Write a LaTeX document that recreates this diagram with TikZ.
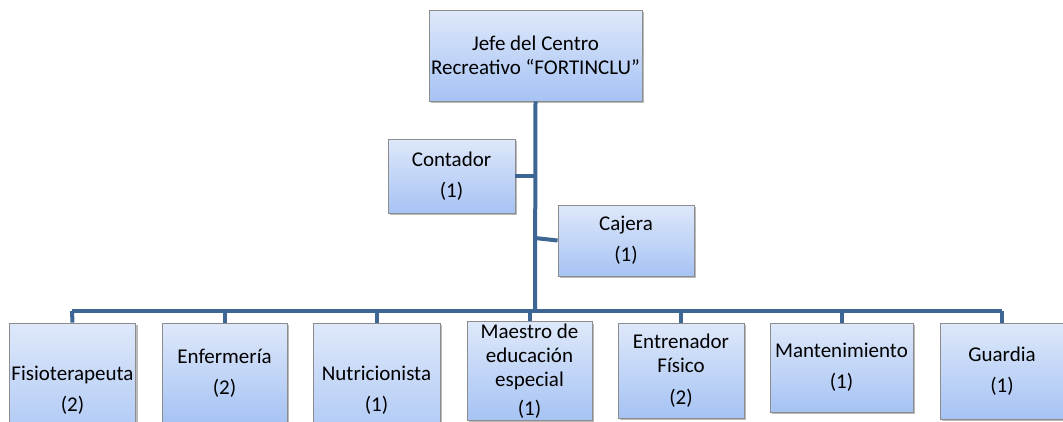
\documentclass[tikz,border=0pt]{standalone}
\usepackage{fontspec}
\setmainfont{Carlito}
\usetikzlibrary{shadows}
\definecolor{linec}{RGB}{62,102,148}
\definecolor{boxtop}{RGB}{222,232,250}
\definecolor{boxbot}{RGB}{166,195,244}
\definecolor{boxline}{RGB}{140,140,140}
\tikzset{
  orgbox/.style={draw=boxline, line width=0.8pt, top color=boxtop, bottom color=boxbot,
    align=center, inner sep=2pt, font=\fontsize{21}{24}\selectfont,
    drop shadow={shadow xshift=2pt, shadow yshift=-2pt, opacity=0.45, fill=black!60}},
  conn/.style={draw=linec, line width=4pt}
}
\begin{document}
\begin{tikzpicture}[x=1pt,y=-1pt]
\useasboundingbox (0,0) rectangle (1063,421);
\coordinate (bar) at (535,311);
\coordinate (barL) at (72,311);
\coordinate (barR) at (1002,311);
\coordinate (jc) at (535,176);
\coordinate (jk) at (535,238);
% boxes
\node[orgbox, minimum width=211pt, minimum height=91pt] (jefe) at (535.5,55.5) {Jefe del Centro\\Recreativo “FORTINCLU”};
\node[orgbox, minimum width=127pt, minimum height=74pt] (cont) at (451.5,176) {Contador\\[7pt](1)};
\node[orgbox, minimum width=136pt, minimum height=71pt] (caj) at (626,240.5) {Cajera\\[7pt](1)};
\node[orgbox, minimum width=125pt, minimum height=135pt] (fis) at (72.5,390.5) {Fisioterapeuta\\[7pt](2)};
\node[orgbox, minimum width=125pt, minimum height=100pt] (enf) at (224.5,373) {Enfermería\\[7pt](2)};
\node[orgbox, minimum width=127pt, minimum height=134pt] (nut) at (376.5,390) {Nutricionista\\[7pt](1)};
\node[orgbox, minimum width=125pt, minimum height=98pt] (mae) at (529.5,371) {Maestro de\\educación\\especial\\[5pt](1)};
\node[orgbox, minimum width=126pt, minimum height=95pt] (ent) at (681,370.5) {Entrenador\\Físico\\[8pt](2)};
\node[orgbox, minimum width=143pt, minimum height=89pt] (man) at (841.5,367.5) {Mantenimiento\\[7pt](1)};
\node[orgbox, minimum width=124pt, minimum height=96pt] (gua) at (1002,371) {Guardia\\[7pt](1)};
% lines
\draw[conn] (jefe.south) -- (bar);
\draw[conn] (barL) -- (barR);
\draw[conn] (cont.east) -- (jc);
\draw[conn] (jk) -- (caj.west);
\draw[conn] (barL) -- (fis.north);
\draw[conn] (224.5,311) -- (enf.north);
\draw[conn] (376.5,311) -- (nut.north);
\draw[conn] (529.5,311) -- (mae.north);
\draw[conn] (681,311) -- (ent.north);
\draw[conn] (841.5,311) -- (man.north);
\draw[conn] (barR) -- (gua.north);
\end{tikzpicture}
\end{document}
